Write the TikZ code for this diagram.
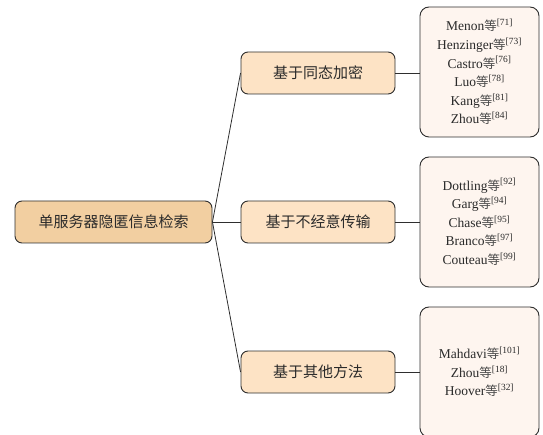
\documentclass[tikz,border=0pt]{standalone}
\usepackage{fontspec}
\setmainfont{Liberation Serif}
\newfontfamily\cjk{Noto Sans CJK SC}
\definecolor{rootfill}{HTML}{F2CFA1}
\definecolor{midfill}{HTML}{FDE3C5}
\definecolor{leaffill}{HTML}{FEF5EF}
\definecolor{edgecol}{HTML}{2E2E2E}
\definecolor{txtcol}{HTML}{2A2A2A}
\definecolor{dengcol}{HTML}{4A4A4A}
\tikzset{
  boxbase/.style={draw=edgecol, line width=0.9pt, rectangle, inner sep=0pt, align=center, text=txtcol},
  rootbox/.style={boxbase, fill=rootfill, rounded corners=7pt, minimum width=197pt, minimum height=42pt, font=\cjk\fontsize{15}{18}\selectfont},
  midbox/.style={boxbase, fill=midfill, rounded corners=7pt, minimum width=154pt, minimum height=42pt, font=\cjk\fontsize{15}{18}\selectfont},
  leafbox/.style={boxbase, fill=leaffill, rounded corners=9pt, minimum width=119pt, minimum height=130pt, font=\fontsize{13.5}{18.6}\selectfont},
  conn/.style={draw=edgecol, line width=0.8pt}
}
\newcommand{\deng}{{\cjk\fontsize{12.5}{18.6}\selectfont\color{dengcol}等}}
\newcommand{\rf}[1]{\textsuperscript{[#1]}}
\begin{document}
\begin{tikzpicture}[x=1pt,y=-1pt]
\useasboundingbox (0,0) rectangle (543,435);
\clip (0,0) rectangle (543,435);
\node[rootbox] (root) at (113.5,222) {单服务器隐匿信息检索};
\node[midbox] (c1) at (318,73) {基于同态加密};
\node[midbox] (c2) at (318,222) {基于不经意传输};
\node[midbox] (c3) at (318,372) {基于其他方法};
\node[leafbox] (l1) at (479.5,72) {Menon\deng\rf{71}\\Henzinger\deng\rf{73}\\Castro\deng\rf{76}\\Luo\deng\rf{78}\\Kang\deng\rf{81}\\Zhou\deng\rf{84}};
\node[leafbox] (l2) at (479.5,222) {Dottling\deng\rf{92}\\Garg\deng\rf{94}\\Chase\deng\rf{95}\\Branco\deng\rf{97}\\Couteau\deng\rf{99}};
\node[leafbox] (l3) at (479.5,372) {Mahdavi\deng\rf{101}\\Zhou\deng\rf{18}\\Hoover\deng\rf{32}};
\draw[conn] (root.east) -- (c1.west);
\draw[conn] (root.east) -- (c2.west);
\draw[conn] (root.east) -- (c3.west);
\draw[conn] (c1.east) -- (c1.east -| l1.west);
\draw[conn] (c2.east) -- (c2.east -| l2.west);
\draw[conn] (c3.east) -- (c3.east -| l3.west);
\end{tikzpicture}
\end{document}
